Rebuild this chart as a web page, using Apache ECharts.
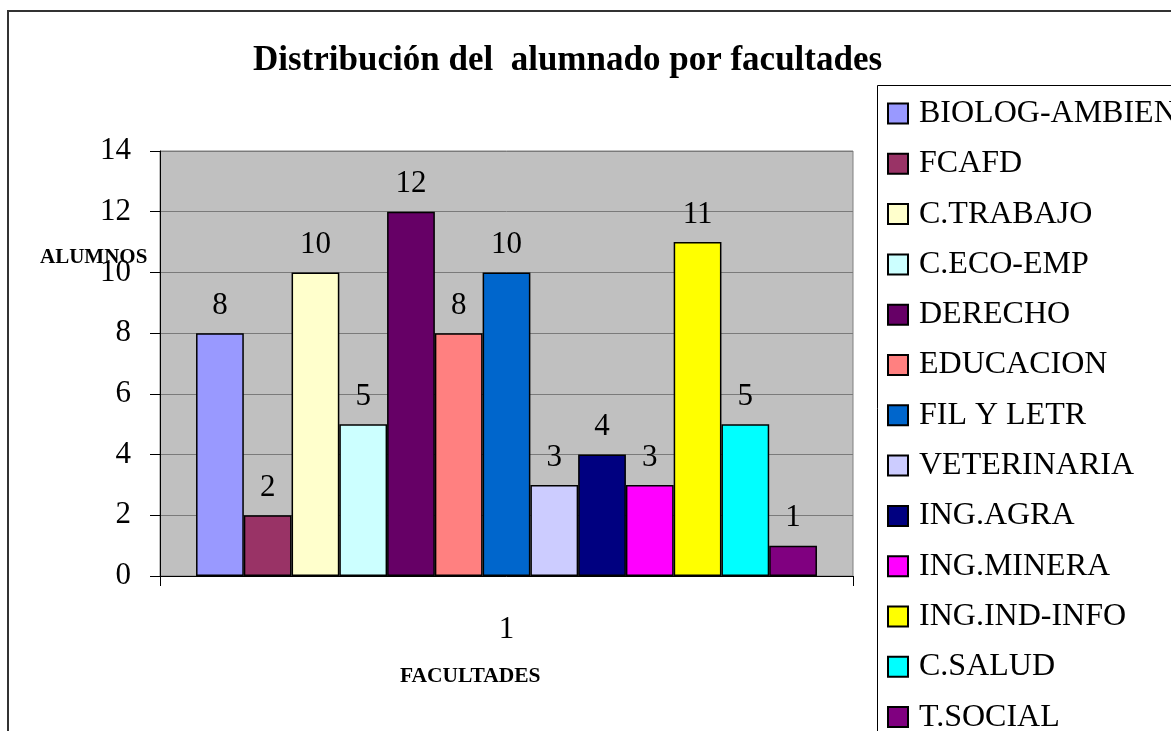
<!DOCTYPE html>
<html>
<head>
<meta charset="utf-8">
<script src="https://cdn.jsdelivr.net/npm/echarts@6/dist/echarts.min.js"></script>
<style>
  html, body { margin: 0; padding: 0; background: #fff; }
  #chart { width: 1171px; height: 731px; }
</style>
</head>
<body>
<div id="chart"></div>
<script>
// facultades y número de alumnos
const facultades = ['BIOLOG-AMBIEN', 'FCAFD', 'C.TRABAJO', 'C.ECO-EMP', 'DERECHO', 'EDUCACION',
  'FIL Y LETR', 'VETERINARIA', 'ING.AGRA', 'ING.MINERA', 'ING.IND-INFO', 'C.SALUD', 'T.SOCIAL']
const alumnos = [8, 2, 10, 5, 12, 8, 10, 3, 4, 3, 11, 5, 1]
const colores = ['#9999FF', '#993366', '#FFFFCC', '#CCFFFF', '#660066', '#FF8080',
  '#0066CC', '#CCCCFF', '#000080', '#FF00FF', '#FFFF00', '#00FFFF', '#800080']
const categorias = ['1']

const font = 'Liberation Serif, Times New Roman, serif'

const chart = echarts.init(document.getElementById('chart'))

chart.setOption({
  animation: false,
  title: {
    text: 'Distribución del  alumnado por facultades',
    left: 248,
    top: 38,
    textStyle: { fontFamily: font, fontSize: 35, fontWeight: 'bold', color: '#000' }
  },
  legend: {
    orient: 'vertical',
    left: 882,
    top: 92,
    height: 700,
    itemWidth: 20,
    itemHeight: 20,
    itemGap: 17.3,
    icon: 'rect',
    textStyle: { fontFamily: font, fontSize: 32, color: '#000', lineHeight: 33, padding: [0, 0, 0, 6] },
    data: facultades
  },
  grid: {
    left: 160,
    top: 151,
    right: 318,
    bottom: 155,
    show: true,
    backgroundColor: '#C0C0C0',
    borderColor: '#808080',
    borderWidth: 1
  },
  xAxis: {
    type: 'category',
    data: categorias,
    axisLine: { lineStyle: { color: '#000', width: 1 } },
    axisTick: { show: true, length: 10, lineStyle: { color: '#000' } },
    axisLabel: { fontFamily: font, fontSize: 31, color: '#000', margin: 38 }
  },
  yAxis: {
    type: 'value',
    min: 0,
    max: 14,
    interval: 2,
    axisLine: { show: true, lineStyle: { color: '#000', width: 1 } },
    axisTick: { show: true, length: 10, lineStyle: { color: '#000' } },
    axisLabel: { fontFamily: font, fontSize: 31, color: '#000', margin: 29 },
    splitLine: { lineStyle: { color: '#7a7a7a', width: 1 } }
  },
  series: facultades.map((name, i) => ({
    name: name,
    type: 'bar',
    data: [alumnos[i]],
    barGap: '0%',
    barCategoryGap: '10.4%',
    itemStyle: { color: colores[i], borderColor: '#000', borderWidth: 1.5 },
    label: {
      show: true,
      position: 'top',
      distance: 12,
      fontFamily: font,
      fontSize: 31,
      color: '#000'
    }
  })),
  graphic: [
    {
      type: 'rect',
      shape: { x: 8, y: 11, width: 1300, height: 900 },
      style: { fill: 'none', stroke: '#333', lineWidth: 2 },
      silent: true
    },
    {
      type: 'rect',
      shape: { x: 877.5, y: 85.5, width: 400, height: 800 },
      style: { fill: 'none', stroke: '#000', lineWidth: 1 },
      silent: true
    },
    {
      type: 'text',
      left: 40,
      top: 247,
      style: { text: 'ALUMNOS', font: 'bold 21px ' + font, fill: '#000' }
    },
    {
      type: 'text',
      left: 400,
      top: 665,
      style: { text: 'FACULTADES', font: 'bold 21.5px ' + font, fill: '#000' }
    }
  ]
})
</script>
</body>
</html>
